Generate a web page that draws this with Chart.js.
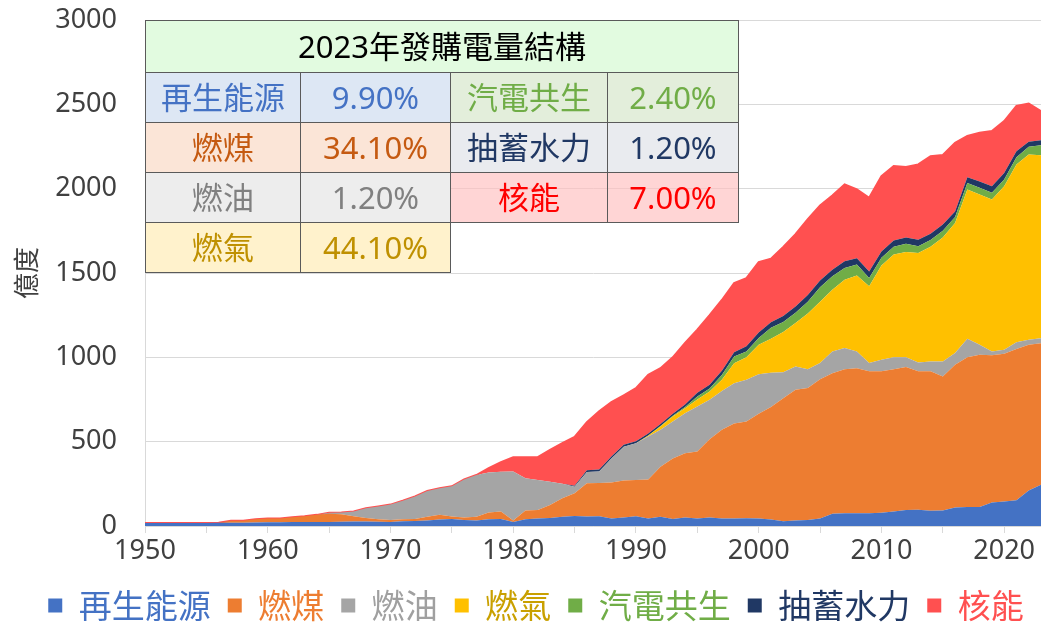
<!DOCTYPE html>
<html><head><meta charset="utf-8">
<script src="https://cdn.jsdelivr.net/npm/chart.js@4.4.1/dist/chart.umd.min.js"></script>
<style>
html,body{margin:0;padding:0;background:#fff;}
#wrap{position:relative;width:1041px;height:626px;overflow:hidden;}
#c{position:absolute;left:0;top:0;}
#tbl{position:absolute;left:145px;top:20px;border-collapse:collapse;table-layout:fixed;width:593px;
  font-family:'Noto Sans','Noto Sans CJK TC',sans-serif;}
#tbl td{border:1px solid #5a5a5a;text-align:center;vertical-align:middle;padding:0;font-size:31px;line-height:1;white-space:nowrap;}
#tbl tr{height:50px;}
#tbl tr.t{height:52px;}
#tbl td.e{border:none;background:transparent;}
</style></head>
<body>
<div id="wrap">
<canvas id="c" width="1041" height="626"></canvas>
<table id="tbl">
<colgroup><col style="width:155px"><col style="width:150px"><col style="width:157px"><col style="width:131px"></colgroup>
<tr class="t"><td colspan="4" style="background:#e2fbe0;color:#000;font-size:31px;">2023年發購電量結構</td></tr>
<tr><td style="background:#dde7f4;color:#4472c4">再生能源</td><td style="background:#dde7f4;color:#4472c4">9.90%</td>
    <td style="background:#e3eedb;color:#70ad47">汽電共生</td><td style="background:#e3eedb;color:#70ad47">2.40%</td></tr>
<tr><td style="background:#fbe5d7;color:#c55a11">燃煤</td><td style="background:#fbe5d7;color:#c55a11">34.10%</td>
    <td style="background:#e9ebef;color:#203864">抽蓄水力</td><td style="background:#e9ebef;color:#203864">1.20%</td></tr>
<tr><td style="background:#ededed;color:#808080">燃油</td><td style="background:#ededed;color:#808080">1.20%</td>
    <td style="background:rgba(255,190,190,0.65);color:#ff0000">核能</td><td style="background:rgba(255,190,190,0.65);color:#ff0000">7.00%</td></tr>
<tr><td style="background:#fff2cc;color:#bf9000">燃氣</td><td style="background:#fff2cc;color:#bf9000">44.10%</td>
    <td class="e" colspan="2"></td></tr>
</table>
</div>
<script>
const years = [1950,1951,1952,1953,1954,1955,1956,1957,1958,1959,
  1960,1961,1962,1963,1964,1965,1966,1967,1968,1969,
  1970,1971,1972,1973,1974,1975,1976,1977,1978,1979,
  1980,1981,1982,1983,1984,1985,1986,1987,1988,1989,
  1990,1991,1992,1993,1994,1995,1996,1997,1998,1999,
  2000,2001,2002,2003,2004,2005,2006,2007,2008,2009,
  2010,2011,2012,2013,2014,2015,2016,2017,2018,2019,
  2020,2021,2022,2023];

const renewable = [18,18,18,18,18,18,20,20,20,21,
  22,22,23,23,24,24,25,26,27,25,
  24,28,30,32,38,42,35,32,40,42,
  24,40,45,48,55,60,56,58,45,50,
  58,45,55,42,50,45,50,45,45,46,
  45,38,28,32,36,45,72,75,76,76,
  78,86,95,96,90,92,110,112,112,140,
  145,152,210,244];

const coal = [0,0,0,0,0,0,0,11,11,19,
  23,23,29,35,42,48,45,32,21,15,
  12,12,12,23,28,14,15,23,40,44,
  8,52,50,77,110,134,197,197,213,220,
  215,230,297,358,381,396,465,525,563,573,
  620,667,730,776,782,825,833,855,860,842,
  839,844,847,821,827,795,846,888,903,873,
  876,898,865,839];

const oil = [0,0,0,0,0,0,0,0,0,0,
  0,0,0,0,0,7,10,28,57,76,
  91,110,133,153,158,179,226,247,237,235,
  291,191,178,138,85,39,67,68,142,200,
  218,255,218,219,238,267,233,230,239,248,
  235,203,153,138,112,96,130,125,99,48,
  69,70,59,53,59,89,69,110,60,22,
  24,40,29,30];

const gas = [0,0,0,0,0,0,0,0,0,0,
  0,0,0,0,0,0,0,0,0,0,
  0,0,0,0,0,0,0,0,0,0,
  0,0,0,0,0,0,0,0,0,0,
  0,5,20,30,29,42,49,67,118,133,
  175,202,239,258,330,364,365,405,450,455,
  559,610,624,649,679,734,772,885,890,901,
  970,1054,1099,1085];

const cogeneration = [0,0,0,0,0,0,0,0,0,0,
  0,0,0,0,0,0,0,0,0,0,
  0,0,0,0,0,0,0,0,0,0,
  0,0,0,0,0,0,0,0,0,0,
  0,1,3,4,7,18,18,28,40,35,
  40,65,60,60,70,85,80,70,65,50,
  45,45,48,40,40,40,35,38,40,40,
  40,42,45,59];

const pumpedHydro = [0,0,0,0,0,0,0,0,0,0,
  0,0,0,0,0,0,0,0,0,0,
  0,0,0,0,0,0,0,0,0,0,
  0,0,0,0,0,6,10,12,12,12,
  12,12,12,12,15,22,22,25,25,30,
  32,33,35,38,40,40,40,40,38,38,
  38,38,38,38,38,38,32,35,37,38,
  38,36,30,30];

const nuclear = [0,0,0,0,0,0,0,0,0,0,
  0,0,0,0,0,0,0,0,0,0,
  0,0,0,0,0,0,0,0,26,57,
  85,125,135,189,242,289,285,345,323,293,
  314,349,331,335,365,374,413,420,411,405,
  418,377,410,428,450,445,440,455,407,437,
  446,441,417,447,460,412,408,244,290,328,
  308,268,227,173];

const seriesNames = ['再生能源','燃煤','燃油','燃氣','汽電共生','抽蓄水力','核能'];
const seriesColors = ['#4472C4','#ED7D31','#A5A5A5','#FFC000','#70AD47','#203864','#FF5050'];
const legendTextColors = ['#4472C4','#ED7D31','#A0A0A0','#C9A000','#70AD47','#203864','#FF5050'];
const xTickLabels = [1950,1960,1970,1980,1990,2000,2010,2020];
const yTickValues = [0,500,1000,1500,2000,2500,3000];
const yAxisTitle = '億度';

const seriesValues = [renewable, coal, oil, gas, cogeneration, pumpedHydro, nuclear];

const FONT = "'Noto Sans','Noto Sans CJK TC',sans-serif";
const CJK = "'Noto Sans CJK TC','Noto Sans',sans-serif";
Chart.defaults.font.family = FONT;

const datasets = seriesValues.map((vals, i) => ({
  label: seriesNames[i],
  data: years.map((yr, j) => ({x: yr, y: vals[j]})),
  backgroundColor: seriesColors[i],
  borderColor: i === 6 ? seriesColors[i] : 'rgba(0,0,0,0)',
  borderWidth: i === 6 ? 2 : 0,
  fill: i === 0 ? 'origin' : '-1',
  pointRadius: 0,
  pointHoverRadius: 0,
  tension: 0
}));

// pin the plot area to the reference's frame
const PLOT_TOP = 20, PLOT_BOTTOM = 526;
const pinArea = {
  id: 'pinArea',
  afterLayout(chart) {
    const ca = chart.chartArea;
    const y = chart.scales.y;
    ca.top = PLOT_TOP; ca.bottom = PLOT_BOTTOM; ca.height = PLOT_BOTTOM - PLOT_TOP;
    y.top = PLOT_TOP; y.bottom = PLOT_BOTTOM; y.height = PLOT_BOTTOM - PLOT_TOP;
    y.configure();
  }
};

new Chart(document.getElementById('c'), {
  type: 'line',
  data: {datasets},
  plugins: [pinArea],
  options: {
    responsive: false,
    animation: false,
    events: [],
    layout: {autoPadding: false, padding: {top: 20, left: 31, right: 0, bottom: -6}},
    plugins: {
      tooltip: {enabled: false},
      legend: {
        position: 'bottom',
        labels: {
          boxWidth: 14, boxHeight: 14, padding: 17,
          font: {size: 33, family: CJK},
          generateLabels: (chart) => chart.data.datasets.map((ds, i) => ({
            text: ds.label,
            fillStyle: seriesColors[i],
            strokeStyle: seriesColors[i],
            lineWidth: 0,
            hidden: false,
            datasetIndex: i,
            fontColor: legendTextColors[i]
          }))
        }
      }
    },
    scales: {
      x: {
        type: 'linear', min: 1950, max: 2023,
        ticks: {
          stepSize: 5, includeBounds: false, autoSkip: false, maxRotation: 0, maxTicksLimit: 30,
          color: '#404040', font: {size: 27}, padding: 2,
          callback: (v) => xTickLabels.includes(v) ? String(v) : ''
        },
        grid: {drawOnChartArea: false, drawTicks: true, tickLength: 7, color: '#d9d9d9'},
        border: {display: true, color: '#d9d9d9'},
        afterFit: (s) => { s.height = 46; }
      },
      y: {
        stacked: true, min: 0, max: 3000,
        afterBuildTicks: (s) => { s.ticks = yTickValues.map(v => ({value: v})); },
        ticks: {color: '#404040', font: {size: 27}, padding: 28, callback: (v) => String(v)},
        grid: {color: '#d9d9d9', drawTicks: false},
        border: {display: true, color: '#d9d9d9'},
        title: {display: true, text: yAxisTitle, color: '#404040', font: {size: 26, family: CJK}, padding: {top: -20, bottom: 0}},
        afterFit: (s) => { s.width = 114; }
      }
    }
  }
});
</script>
</body></html>
